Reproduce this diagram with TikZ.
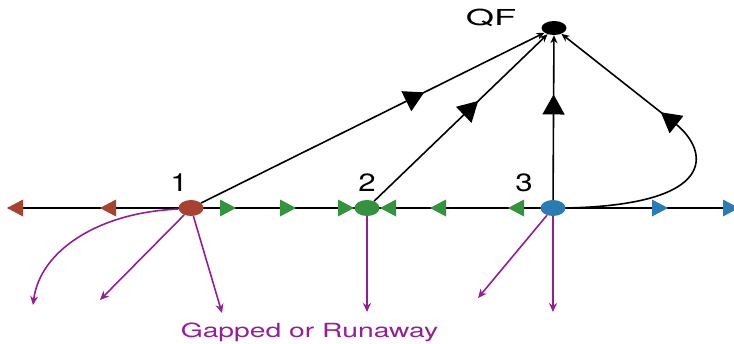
\documentclass[tikz,border=0pt]{standalone}
\usepackage{fontspec}
\setmainfont{TeX Gyre Heros}
\usetikzlibrary{shapes.geometric,arrows.meta,decorations.markings}
\definecolor{cred}{RGB}{168,66,48}
\definecolor{cgreen}{RGB}{52,148,62}
\definecolor{cblue}{RGB}{42,124,180}
\definecolor{cpurp}{RGB}{148,30,148}
\tikzset{
  fp/.style={ellipse,inner sep=0pt,minimum width=25pt,minimum height=16pt},
  lbl/.style={inner sep=0pt,font=\fontsize{25}{25}\selectfont},
  ltri/.pic={\path[pic actions] (0,0) -- (16,-8.5) -- (16,8.5) -- cycle;},
  rtri/.pic={\path[pic actions] (0,0) -- (-16,-8.5) -- (-16,8.5) -- cycle;},
  blk/.style={draw=black,line width=1.6pt},
  qfarr/.style={-{Stealth[length=8pt,width=7pt]}},
  midarrow/.style={postaction={decorate},decoration={markings,
      mark=at position #1 with {\arrow{Triangle[length=20pt,width=22pt]}}}},
  parr/.style={draw=cpurp,line width=1.6pt,-{Stealth[length=9pt,width=8pt]}}
}
\begin{document}
\begin{tikzpicture}[x=1pt,y=-1pt]
\useasboundingbox (0,0) rectangle (734,343);
\clip (0,0) rectangle (734,343);
% axis
\coordinate (axL) at (8,208);
\coordinate (axR) at (734,208);
\draw[line width=1.2pt] (axL) -- (axR);
% triangles on axis
\pic[fill=cred] at (7,208) {ltri};
\pic[fill=cred] at (100,208) {ltri};
\pic[fill=cgreen] at (236,208) {rtri};
\pic[fill=cgreen] at (296,208) {rtri};
\pic[fill=cgreen] at (354,208) {rtri};
\pic[fill=cgreen] at (380,208) {ltri};
\pic[fill=cgreen] at (430,208) {ltri};
\pic[fill=cgreen] at (508,208) {ltri};
\pic[fill=cblue] at (668,208) {rtri};
\pic[fill=cblue] at (739,208) {rtri};
% fixed points
\node[fp,fill=cred] (n1) at (191,208) {};
\node[fp,fill=cgreen] (n2) at (367,208) {};
\node[fp,fill=cblue] (n3) at (553,208) {};
\node[ellipse,inner sep=0pt,minimum width=25pt,minimum height=14pt,fill=black] (qf) at (554,28) {};
% labels
\node[lbl] (l1) at (179,183) {\scalebox{1.25}[1]{1}};
\node[lbl] (l2) at (367,183) {\scalebox{1.25}[1]{2}};
\node[lbl] (l3) at (524,183) {\scalebox{1.25}[1]{3}};
\node[inner sep=0pt,font=\fontsize{22}{22}\selectfont] (lqf) at (491,18) {\scalebox{1.65}[1]{QF}};
\node[inner sep=0pt,anchor=base,text=cpurp,font=\fontsize{19.5}{19.5}\selectfont] (gr) at (309.5,337) {\scalebox{1.45}[1]{Gapped or Runaway}};
% black flows to QF
\draw[blk,qfarr,midarrow=0.65] (n1) -- (qf);
\draw[blk,qfarr,midarrow=0.6] (n2) -- (qf);
\draw[blk,qfarr,midarrow=0.64] (n3) -- (qf);
\coordinate (c3) at (677,125);
\draw[blk] (n3.east) .. controls (720,205) and (708,151) .. (c3);
\draw[blk,qfarr,midarrow=0.14] (c3) -- (qf);
% purple flows
\coordinate (p1) at (33,305);
\coordinate (p2) at (100,300);
\coordinate (p3) at (222,313);
\coordinate (p4) at (367,312);
\coordinate (p5) at (478,298);
\coordinate (p6) at (553,312);
\draw[parr] (n1.185) .. controls (100,212) and (40,250) .. (p1);
\draw[parr] (n1) -- (p2);
\draw[parr] (n1) -- (p3);
\draw[parr] (n2) -- (p4);
\draw[parr] (n3) -- (p5);
\draw[parr] (n3) -- (p6);
\end{tikzpicture}
\end{document}
